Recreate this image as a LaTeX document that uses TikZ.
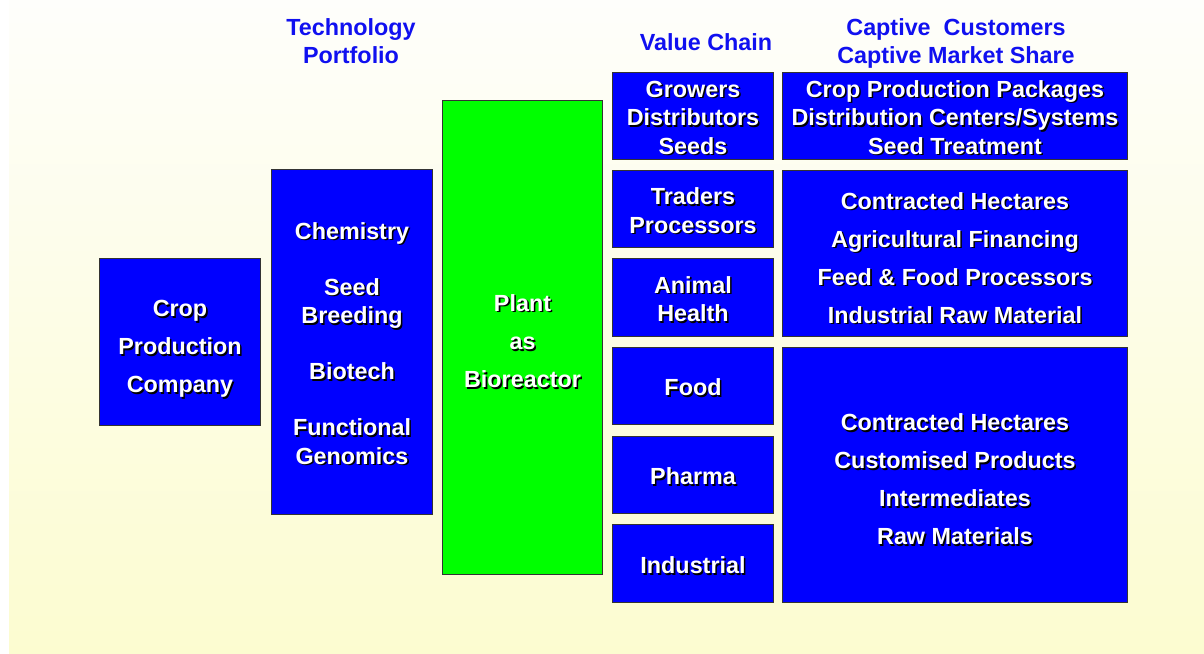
\documentclass[tikz,border=0pt]{standalone}
\usepackage{fontspec}
\setmainfont{Liberation Sans}
\usetikzlibrary{positioning}

\definecolor{paletop}{RGB}{254,254,251}
\definecolor{palebottom}{RGB}{252,252,208}
\definecolor{headblue}{RGB}{16,16,240}

% white text with a small dark drop shadow, set a little below centre
\newcommand{\shadowtext}[2][3.5pt]{%
  \raisebox{-#1}[\height][\depth]{%
    \rlap{\kern1.1pt\raisebox{-1.1pt}{\color{black}\begin{tabular}{@{}c@{}}#2\end{tabular}}}%
    \begin{tabular}{@{}c@{}}#2\end{tabular}}}
\newcommand{\boxfont}{\fontsize{16.6}{20.3}\selectfont\bfseries}

\begin{document}
\begin{tikzpicture}[
    x=0.025cm, y=-0.025cm,
    bluebox/.style={draw=black!80, line width=0.7pt, fill=blue, text=white,
      font=\boxfont, minimum width=4cm, inner sep=0pt},
    greenbox/.style={bluebox, fill=green},
    widebox/.style={bluebox, minimum width=8.6cm},
    heading/.style={text=headblue, align=center,
      font=\fontsize{16.6}{19.8}\selectfont\bfseries}
  ]
    \useasboundingbox (0,0) rectangle (1204,653);
    \fill[white] (0,0) rectangle (1204,653);
    \shade[top color=paletop, bottom color=palebottom] (9,0) rectangle (1204,653);

    \node[heading] (techhead) at (351,41.5) {Technology\\Portfolio};
    \node[heading] (chainhead) at (706,42) {Value Chain};
    \node[heading] (custhead) at (956,43.5) {Captive\ \ Customers\\Captive Market Share};

    \node[bluebox, minimum height=4.15cm] (crop) at (180,342)
      {\shadowtext[5.5pt]{Crop\\[6.8pt]Production\\[6.8pt]Company}};
    \node[bluebox, minimum height=8.6cm] (tech) at (352,342)
      {\shadowtext{Chemistry\\[19.5pt]Seed\\Breeding\\[19.5pt]Biotech\\[19.5pt]Functional\\Genomics}};
    \node[greenbox, minimum height=11.825cm] (plant) at (522.5,337.5)
      {\shadowtext[5pt]{Plant\\[6.8pt]as\\[6.8pt]Bioreactor}};

    \node[bluebox, minimum height=2.15cm] (growers) at (693,116)
      {\shadowtext{Growers\\Distributors\\Seeds}};
    \node[bluebox, minimum height=1.925cm, below=0.25cm of growers] (traders)
      {\shadowtext{Traders\\Processors}};
    \node[bluebox, minimum height=1.95cm, below=0.25cm of traders] (animal)
      {\shadowtext{Animal\\Health}};
    \node[bluebox, minimum height=1.925cm, below=0.25cm of animal] (food)
      {\shadowtext{Food}};
    \node[bluebox, minimum height=1.925cm, below=0.275cm of food] (pharma)
      {\shadowtext{Pharma}};
    \node[bluebox, minimum height=1.95cm, below=0.25cm of pharma] (industrial)
      {\shadowtext{Industrial}};

    \node[widebox, minimum height=2.15cm] (packages) at (955,116)
      {\shadowtext{Crop Production Packages\\Distribution Centers/Systems\\Seed Treatment}};
    \node[widebox, minimum height=4.15cm, below=0.25cm of packages] (hectares)
      {\shadowtext[5.5pt]{Contracted Hectares\\[6.8pt]Agricultural Financing\\[6.8pt]Feed \& Food Processors\\[6.8pt]Industrial Raw Material}};
    \node[widebox, minimum height=6.375cm, below=0.25cm of hectares] (products)
      {\shadowtext[5.5pt]{Contracted Hectares\\[6.8pt]Customised Products\\[6.8pt]Intermediates\\[6.8pt]Raw Materials}};
  \end{tikzpicture}
\end{document}
